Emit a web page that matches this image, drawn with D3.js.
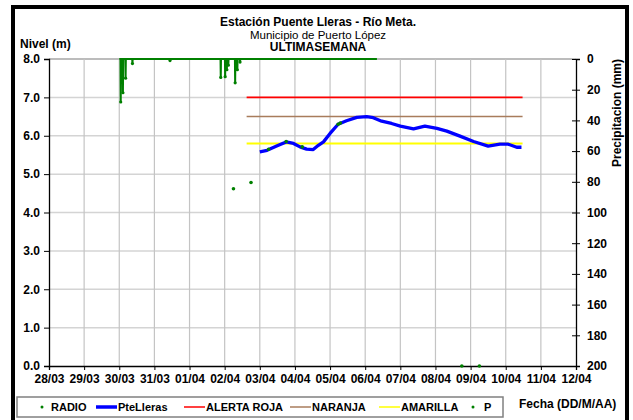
<!DOCTYPE html>
<html>
<head>
<meta charset="utf-8">
<script src="https://cdn.jsdelivr.net/npm/d3@7"></script>
<style>
  body { margin: 0; background: #fff; }
  text { font-family: "Liberation Sans", Arial, sans-serif; }
</style>
</head>
<body>
<div id="chart"></div>
<script>
// day labels on the x axis
var dayLabels = ["28/03","29/03","30/03","31/03","01/04","02/04","03/04","04/04",
  "05/04","06/04","07/04","08/04","09/04","10/04","11/04","12/04"]
var levelTicks = [0,1,2,3,4,5,6,7,8]
var rainTicks = [0,20,40,60,80,100,120,140,160,180,200]

// PteLleras level (m)
var levelTimes = ["03/04 00:00","03/04 05:00","03/04 11:30","03/04 18:00","03/04 23:00",
  "04/04 03:30","04/04 08:00","04/04 12:30","04/04 16:00","04/04 19:30","05/04 00:00",
  "05/04 05:30","05/04 11:15","05/04 18:15","06/04 01:00","06/04 05:30","06/04 11:15",
  "06/04 18:00","07/04 00:00","07/04 09:00","07/04 16:45","08/04 01:00","08/04 07:45",
  "08/04 16:45","09/04 02:00","09/04 12:00","09/04 20:00","10/04 01:45","10/04 07:30",
  "10/04 10:45"]
var levelValues = [5.58,5.62,5.73,5.84,5.80,5.71,5.65,5.64,5.75,5.84,6.06,6.30,6.39,6.48,
  6.50,6.47,6.38,6.32,6.25,6.18,6.25,6.19,6.12,5.99,5.85,5.73,5.78,5.78,5.70,5.70]

// RADIO readings (m)
var radioTimes = ["02/04 06:00","02/04 18:00","03/04 06:00","03/04 18:00","04/04 05:00",
  "05/04 05:30","05/04 07:00","08/04 18:00","09/04 06:00"]
var radioValues = [4.62,4.78,5.65,5.85,5.71,6.30,6.33,0,0]

// P precipitation (mm, right axis)
var pTimes = ["30/03 00:00","30/03 00:50","30/03 01:00","30/03 01:10","30/03 02:20","30/03 02:30",
  "30/03 02:40","30/03 04:10","30/03 04:20","30/03 04:30","30/03 08:50","30/03 09:00","30/03 09:10",
  "31/03 10:30","31/03 10:40","31/03 10:50","01/04 21:10","01/04 21:20","01/04 21:30",
  "02/04 00:10","02/04 00:20","02/04 00:30","02/04 01:20","02/04 01:30","02/04 01:40",
  "02/04 02:20","02/04 02:30","02/04 02:40","02/04 07:00","02/04 07:10","02/04 07:20",
  "02/04 08:30","02/04 08:40","02/04 08:50","02/04 10:20","02/04 10:30","02/04 10:40","06/04 08:00"]
var pValues = [0,0,28,0,0,22,0,0,12.5,0,0,3,0,0,1,0,0,12,0,0,11.5,0,0,7,0,0,4,0,0,15.5,0,0,7,0,0,2,0,0]

// alert thresholds
var alertNames = ["ALERTA ROJA","NARANJA","AMARILLA"]
var alertLevels = [7.0, 6.5, 5.8]
var alertColors = ["#ff0000","#a87c5c","#ffff00"]
var alertStart = "02/04 15:00"
var alertEnd = "10/04 11:30"

var width = 633
var height = 420
var parse = d3.utcParse("%d/%m %H:%M")
var parseDay = d3.utcParse("%d/%m")

var svg = d3.select("#chart")
  .append("svg")
  .attr("width", width)
  .attr("height", height)
  .style("background", "#fff")

// scales
var x = d3.scaleUtc()
  .domain([parseDay(dayLabels[0]), parseDay(dayLabels[dayLabels.length - 1])])
  .range([49, 576])
var y = d3.scaleLinear().domain([0, 8]).range([366, 59])
var yP = d3.scaleLinear().domain([0, 200]).range([59, 366])

// grid lines
svg.append("g")
  .selectAll("line")
  .data(levelTicks.slice(1))
  .enter().append("line")
    .attr("x1", 49).attr("x2", 576)
    .attr("y1", d => y(d)).attr("y2", d => y(d))
    .attr("stroke", d => d == 8 ? "#a6a6a6" : "#d4d4d4")
    .attr("stroke-width", 1.5)

svg.append("g")
  .selectAll("line")
  .data(dayLabels.slice(1, -1))
  .enter().append("line")
    .attr("x1", d => x(parseDay(d))).attr("x2", d => x(parseDay(d)))
    .attr("y1", 59).attr("y2", 366)
    .attr("stroke", "#c4c4c4")
    .attr("stroke-width", 1.2)

// axes
var xAxis = svg.append("g")
  .attr("transform", "translate(0,366)")
  .call(d3.axisBottom(x)
    .tickValues(dayLabels.map(d => parseDay(d)))
    .tickFormat(d3.utcFormat("%d/%m"))
    .tickSize(4).tickPadding(4))
xAxis.select(".domain").attr("stroke", "#000").attr("stroke-width", 1.3)
xAxis.selectAll("text").attr("font-size", "12px").attr("font-weight", "bold").attr("fill", "#000")
  .attr("font-family", "'Liberation Sans', Arial, sans-serif")

var yAxis = svg.append("g")
  .attr("transform", "translate(49,0)")
  .call(d3.axisLeft(y)
    .tickValues(levelTicks)
    .tickFormat(d3.format(".1f"))
    .tickSize(5).tickPadding(4))
yAxis.select(".domain").attr("stroke", "#000").attr("stroke-width", 1.3)
yAxis.selectAll("text").attr("font-size", "12px").attr("font-weight", "bold").attr("fill", "#000")
  .attr("font-family", "'Liberation Sans', Arial, sans-serif")

var pAxis = svg.append("g")
  .attr("transform", "translate(576,0)")
  .call(d3.axisRight(yP)
    .tickValues(rainTicks)
    .tickSize(4).tickPadding(7))
pAxis.select(".domain").attr("stroke", "#000").attr("stroke-width", 1.3)
pAxis.selectAll(".tick line").attr("x1", -4)
pAxis.selectAll("text").attr("font-size", "12px").attr("font-weight", "bold").attr("fill", "#000")
  .attr("font-family", "'Liberation Sans', Arial, sans-serif")

// alert lines
svg.append("g")
  .selectAll("line")
  .data(alertLevels)
  .enter().append("line")
    .attr("x1", x(parse(alertStart))).attr("x2", x(parse(alertEnd)))
    .attr("y1", d => y(d)).attr("y2", d => y(d))
    .attr("stroke", (d, i) => alertColors[i])
    .attr("stroke-width", (d, i) => i == 2 ? 2 : 1.6)

// precipitation line
var pData = pTimes.map((t, i) => ({ t: parse(t), v: pValues[i] }))
svg.append("path")
  .datum(pData)
  .attr("fill", "none")
  .attr("stroke", "#008000")
  .attr("stroke-width", 2)
  .attr("d", d3.line().x(d => x(d.t)).y(d => yP(d.v)))
svg.append("g")
  .selectAll("circle")
  .data(pData.filter(d => d.v > 0))
  .enter().append("circle")
    .attr("cx", d => x(d.t)).attr("cy", d => yP(d.v))
    .attr("r", 1.6).attr("fill", "#008000")

// level line
var levelData = levelTimes.map((t, i) => ({ t: parse(t), v: levelValues[i] }))
svg.append("path")
  .datum(levelData)
  .attr("fill", "none")
  .attr("stroke", "#0000ff")
  .attr("stroke-width", 3.3)
  .attr("stroke-linejoin", "round")
  .attr("d", d3.line().x(d => x(d.t)).y(d => y(d.v)))

// radio dots
svg.append("g")
  .selectAll("circle")
  .data(radioTimes.map((t, i) => ({ t: parse(t), v: radioValues[i] })))
  .enter().append("circle")
    .attr("cx", d => x(d.t)).attr("cy", d => y(d.v))
    .attr("r", 1.8).attr("fill", "#008000")

// titles
var title = svg.append("g").attr("text-anchor", "middle")
title.append("text").attr("x", 318).attr("y", 26)
  .attr("font-size", "12px").attr("font-weight", "bold").text("Estación Puente Lleras - Río Meta.")
title.append("text").attr("x", 318).attr("y", 38.5)
  .attr("font-size", "11.5px").text("Municipio de Puerto López")
title.append("text").attr("x", 318).attr("y", 51)
  .attr("font-size", "12px").attr("font-weight", "bold").text("ULTIMASEMANA")

svg.append("text").attr("x", 20).attr("y", 48)
  .attr("font-size", "12px").attr("font-weight", "bold").text("Nivel (m)")

svg.append("text")
  .attr("transform", "translate(621,113) rotate(-90)")
  .attr("text-anchor", "middle")
  .attr("font-size", "12px").attr("font-weight", "bold")
  .text("Precipitacion (mm)")

svg.append("text").attr("x", 519).attr("y", 408)
  .attr("font-size", "12px").attr("font-weight", "bold").text("Fecha (DD/M/AA)")

// legend
var legend = svg.append("g")
legend.append("rect")
  .attr("x", 17).attr("y", 397).attr("width", 486).attr("height", 20)
  .attr("fill", "#fff").attr("stroke", "#808080").attr("stroke-width", 1.5)

var legendItems = [
  { name: "RADIO", kind: "dot", color: "#008000", x: 42 },
  { name: "PteLleras", kind: "line", color: "#0000ff", x: 96, w: 3.5 },
  { name: alertNames[0], kind: "line", color: alertColors[0], x: 184, w: 1.5 },
  { name: alertNames[1], kind: "line", color: alertColors[1], x: 290, w: 1.5 },
  { name: alertNames[2], kind: "line", color: alertColors[2], x: 379, w: 1.5 },
  { name: "P", kind: "dot", color: "#008000", x: 473 }
]
legendItems.forEach(function(d) {
  if (d.kind == "dot") {
    legend.append("circle").attr("cx", d.x).attr("cy", 407).attr("r", 1.5).attr("fill", d.color)
    legend.append("text").attr("x", d.x + (d.name == "P" ? 11 : 9)).attr("y", 411)
      .attr("font-size", "11px").attr("font-weight", "bold").text(d.name)
  } else {
    legend.append("line").attr("x1", d.x).attr("x2", d.x + 21).attr("y1", 407).attr("y2", 407)
      .attr("stroke", d.color).attr("stroke-width", d.w)
    legend.append("text").attr("x", d.x + 22).attr("y", 411)
      .attr("font-size", "11px").attr("font-weight", "bold").text(d.name)
  }
})

// outer frame
svg.append("rect")
  .attr("x", 13).attr("y", 7).attr("width", 614).attr("height", 440)
  .attr("fill", "none").attr("stroke", "#000").attr("stroke-width", 4)
</script>
</body>
</html>
